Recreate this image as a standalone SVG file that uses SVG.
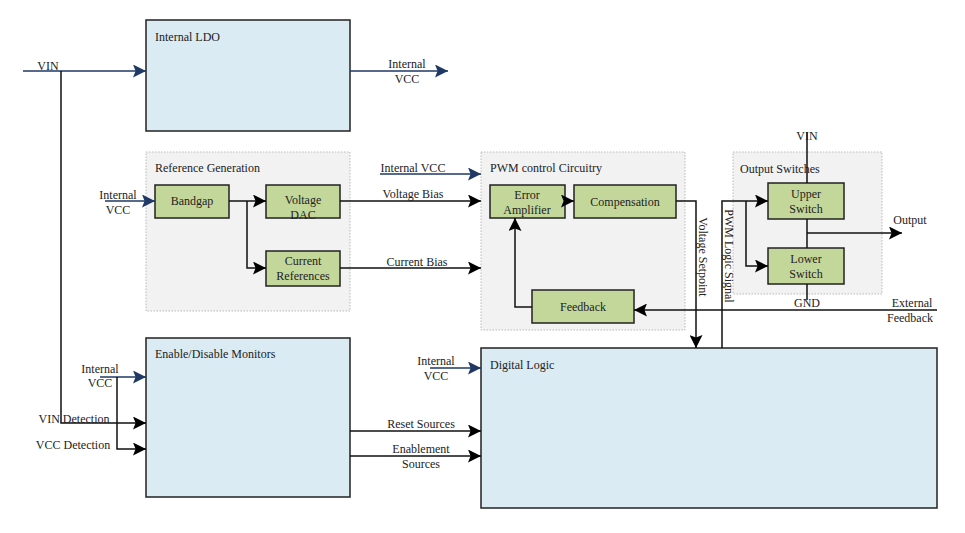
<svg xmlns="http://www.w3.org/2000/svg" width="965" height="533" viewBox="0 0 965 533">
<defs>
<marker id="ab" viewBox="0 0 10 10" refX="10" refY="5" markerWidth="13" markerHeight="13" markerUnits="userSpaceOnUse" orient="auto"><path d="M0,0 L10,5 L0,10 L2,5 z" fill="#000"/></marker>
<marker id="an" viewBox="0 0 10 10" refX="10" refY="5" markerWidth="13" markerHeight="13" markerUnits="userSpaceOnUse" orient="auto"><path d="M0,0 L10,5 L0,10 L2,5 z" fill="#1f3864"/></marker>
</defs>
<style>
text{font-family:"Liberation Serif","Times New Roman",serif;font-size:12px;fill:#222}
.big{fill:#daebf3;stroke:#222;stroke-width:1.5}
.grp{fill:#f2f2f2;stroke:#aaa;stroke-width:0.8;stroke-dasharray:1.5 1.5}
.blk{fill:#c4d79b;stroke:#222;stroke-width:1.5}
.c{text-anchor:middle}
.w{fill:none;stroke:#111;stroke-width:1.5}
.n{fill:none;stroke:#1f3864;stroke-width:1.6}
</style>
<rect width="965" height="533" fill="#fff"/>

<g id="internal-ldo"><rect class="big" x="146" y="20" width="204" height="111"/><text x="155" y="41">Internal LDO</text></g>

<g id="reference-generation"><rect class="grp" x="146" y="152" width="204" height="159"/><text x="155" y="172">Reference Generation</text></g>
<g id="bandgap"><rect class="blk" x="155" y="185" width="74" height="33"/><text class="c" x="192" y="205">Bandgap</text></g>
<g id="voltage-dac"><rect class="blk" x="266" y="185" width="74" height="33"/><text class="c" x="303" y="204">Voltage</text><text class="c" x="303" y="219">DAC</text></g>
<g id="current-references"><rect class="blk" x="266" y="251" width="74" height="35"/><text class="c" x="303" y="265">Current</text><text class="c" x="303" y="280">References</text></g>

<g id="pwm-control"><rect class="grp" x="481" y="152" width="204" height="178"/><text x="490" y="172">PWM control Circuitry</text></g>
<g id="error-amplifier"><rect class="blk" x="490" y="185" width="75" height="33"/><text class="c" x="527" y="199">Error</text><text class="c" x="527" y="214">Amplifier</text></g>
<g id="compensation"><rect class="blk" x="574" y="185" width="102" height="33"/><text class="c" x="625" y="206">Compensation</text></g>
<g id="feedback"><rect class="blk" x="532" y="290" width="102" height="33"/><text class="c" x="583" y="311">Feedback</text></g>

<g id="output-switches"><rect class="grp" x="733" y="152" width="149" height="142"/><text x="740" y="173">Output Switches</text></g>
<g id="upper-switch"><rect class="blk" x="768" y="183" width="76" height="36"/><text class="c" x="806" y="198">Upper</text><text class="c" x="806" y="213">Switch</text></g>
<g id="lower-switch"><rect class="blk" x="768" y="248" width="76" height="36"/><text class="c" x="806" y="263">Lower</text><text class="c" x="806" y="278">Switch</text></g>

<g id="enable-disable-monitors"><rect class="big" x="146" y="338" width="204" height="159"/><text x="155" y="358">Enable/Disable Monitors</text></g>
<g id="digital-logic"><rect class="big" x="481" y="348" width="456" height="160"/><text x="490" y="369">Digital Logic</text></g>

<g id="connectors">
<path class="n" d="M23,71 H146" marker-end="url(#an)"/>
<path class="w" d="M61,71 V423 H146" marker-end="url(#ab)"/>
<path class="n" d="M350,71 H448" marker-end="url(#an)"/>
<path class="n" d="M105,201 H155" marker-end="url(#an)"/>
<path class="w" d="M229,201 H266" marker-end="url(#ab)"/>
<path class="w" d="M247,201 V268 H266" marker-end="url(#ab)"/>
<path class="n" d="M380,174 H481" marker-end="url(#an)"/>
<path class="w" d="M340,201 H481" marker-end="url(#ab)"/>
<path class="w" d="M340,268 H481" marker-end="url(#ab)"/>
<path class="w" d="M565,201 H574" marker-end="url(#ab)"/>
<path class="w" d="M532,307 H515 V218" marker-end="url(#ab)"/>
<path class="w" d="M676,201 H696 V348" marker-end="url(#ab)"/>
<path class="w" d="M722,348 V201 H768" marker-end="url(#ab)"/>
<path class="w" d="M746,201 V266 H768" marker-end="url(#ab)"/>
<path class="w" d="M807,132 V183"/>
<path class="w" d="M807,219 V248"/>
<path class="w" d="M807,233 H902" marker-end="url(#ab)"/>
<path class="w" d="M807,284 V300"/>
<path class="w" d="M937,310 H634" marker-end="url(#ab)"/>
<path class="n" d="M100,377 H146" marker-end="url(#an)"/>
<path class="w" d="M117,377 V449 H146" marker-end="url(#ab)"/>
<path class="w" d="M350,431 H481" marker-end="url(#ab)"/>
<path class="w" d="M350,456 H481" marker-end="url(#ab)"/>
<path class="n" d="M430,368 H481" marker-end="url(#an)"/>
</g>

<g id="labels">
<text x="48" y="70" class="c">VIN</text>
<text x="407" y="68" class="c">Internal</text><text x="407" y="83" class="c">VCC</text>
<text x="118" y="199" class="c">Internal</text><text x="118" y="214" class="c">VCC</text>
<text x="413" y="172" class="c">Internal VCC</text>
<text x="413" y="198" class="c">Voltage Bias</text>
<text x="417" y="266" class="c">Current Bias</text>
<text x="699" y="257" class="c" transform="rotate(90 699 257)">Voltage Setpoint</text>
<text x="725" y="256" class="c" transform="rotate(90 725 256)">PWM Logic Signal</text>
<text x="807" y="140" class="c">VIN</text>
<text x="910" y="224" class="c">Output</text>
<text x="807" y="307" class="c">GND</text>
<text x="912" y="307" class="c">External</text><text x="910" y="322" class="c">Feedback</text>
<text x="100" y="373" class="c">Internal</text><text x="100" y="387" class="c">VCC</text>
<text x="74" y="423" class="c">VIN Detection</text>
<text x="73" y="449" class="c">VCC Detection</text>
<text x="421" y="428" class="c">Reset Sources</text>
<text x="421" y="453" class="c">Enablement</text><text x="421" y="468" class="c">Sources</text>
<text x="436" y="365" class="c">Internal</text><text x="436" y="380" class="c">VCC</text>
</g>
</svg>
